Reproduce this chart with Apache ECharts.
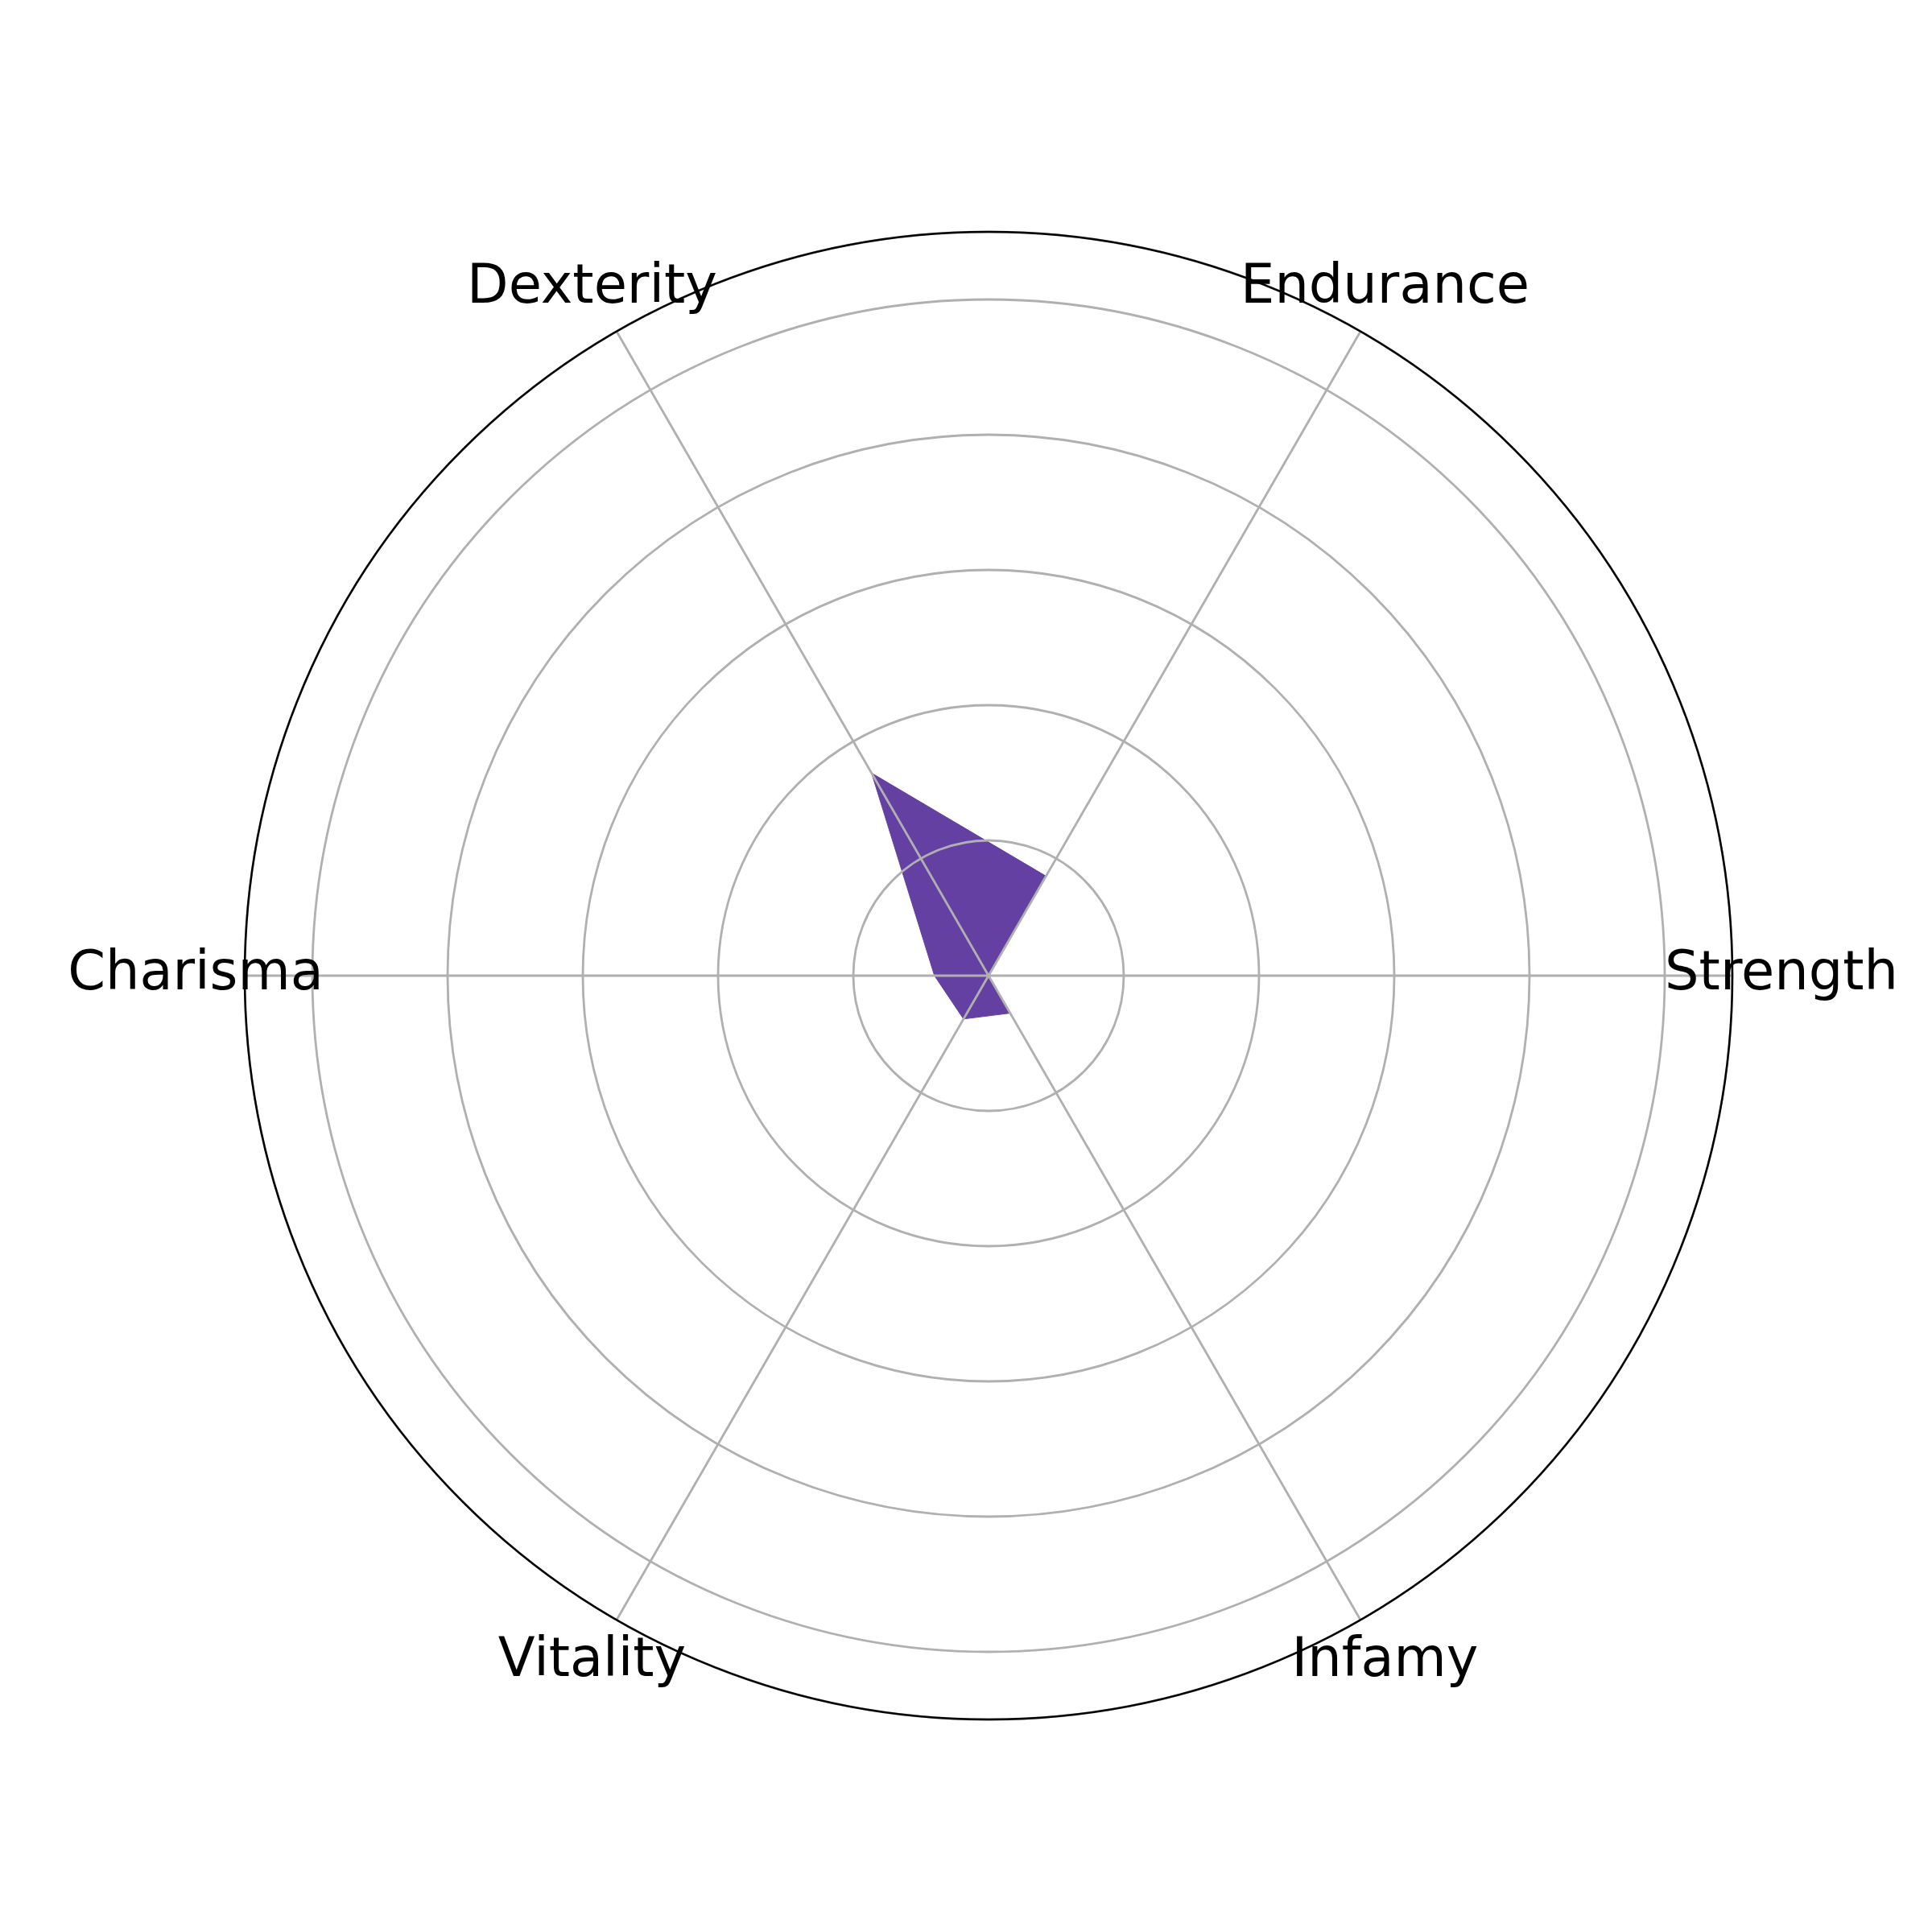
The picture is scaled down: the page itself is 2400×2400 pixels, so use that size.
<!DOCTYPE html>
<html>
<head>
<meta charset="utf-8">
<title>Radar</title>
<script src="https://cdn.jsdelivr.net/npm/echarts@6/dist/echarts.min.js"></script>
<style>
  html, body { margin: 0; padding: 0; background: #fff; }
  #chart { width: 2400px; height: 2400px; }
</style>
</head>
<body>
<div id="chart"></div>
<script>
// data
const categories = ['Strength', 'Endurance', 'Dexterity', 'Charisma', 'Vitality', 'Infamy'];
const values = [0.0, 0.85, 1.73, 0.40, 0.37, 0.32];
const radiusMax = 5.5;

const step = 360 / categories.length;
// [radius, angle] pairs, first point repeated at 360 to close the shape
const points = values.map((v, i) => [v, i * step]);
points.push([values[0], 360]);

// category names sit a little outside the outer ring, centred on each spoke
const labelRadius = radiusMax * 985 / 924;
const labelPoints = categories.map((c, i) => [labelRadius, i * step]);

const chart = echarts.init(document.getElementById('chart'));

const option = {
    backgroundColor: '#ffffff',
    animation: false,
    polar: {
        center: [1228, 1212],
        radius: 924
    },
    angleAxis: {
        type: 'value',
        min: 0,
        max: 360,
        interval: step,
        startAngle: 0,
        clockwise: false,
        z: 5,
        axisLine: { show: true, lineStyle: { color: '#000', width: 2.5 } },
        axisTick: { show: false },
        axisLabel: { show: false },
        splitLine: { show: true, lineStyle: { color: '#b0b0b0', width: 2.8 } }
    },
    radiusAxis: {
        type: 'value',
        min: 0,
        max: radiusMax,
        interval: 1,
        z: 4,
        axisLine: { show: false },
        axisTick: { show: false },
        axisLabel: { show: false },
        splitLine: { show: true, lineStyle: { color: '#b0b0b0', width: 2.8 } }
    },
    series: [
        {
            type: 'line',
            coordinateSystem: 'polar',
            data: points,
            symbol: 'none',
            smooth: false,
            z: 1,
            lineStyle: { color: '#6440a3', width: 1 },
            areaStyle: { color: '#6440a3', opacity: 1 }
        },
        {
            type: 'scatter',
            coordinateSystem: 'polar',
            data: labelPoints,
            symbolSize: 1,
            silent: true,
            clip: false,
            z: 6,
            itemStyle: { color: '#000000', opacity: 0 },
            label: {
                show: true,
                position: 'inside',
                align: 'center',
                verticalAlign: 'middle',
                fontFamily: 'DejaVu Sans',
                fontSize: 67,
                color: '#000000',
                opacity: 1,
                textBorderWidth: 0,
                formatter: (p) => categories[p.dataIndex]
            },
            labelLayout: { hideOverlap: false }
        }
    ]
};

chart.setOption(option);
</script>
</body>
</html>
